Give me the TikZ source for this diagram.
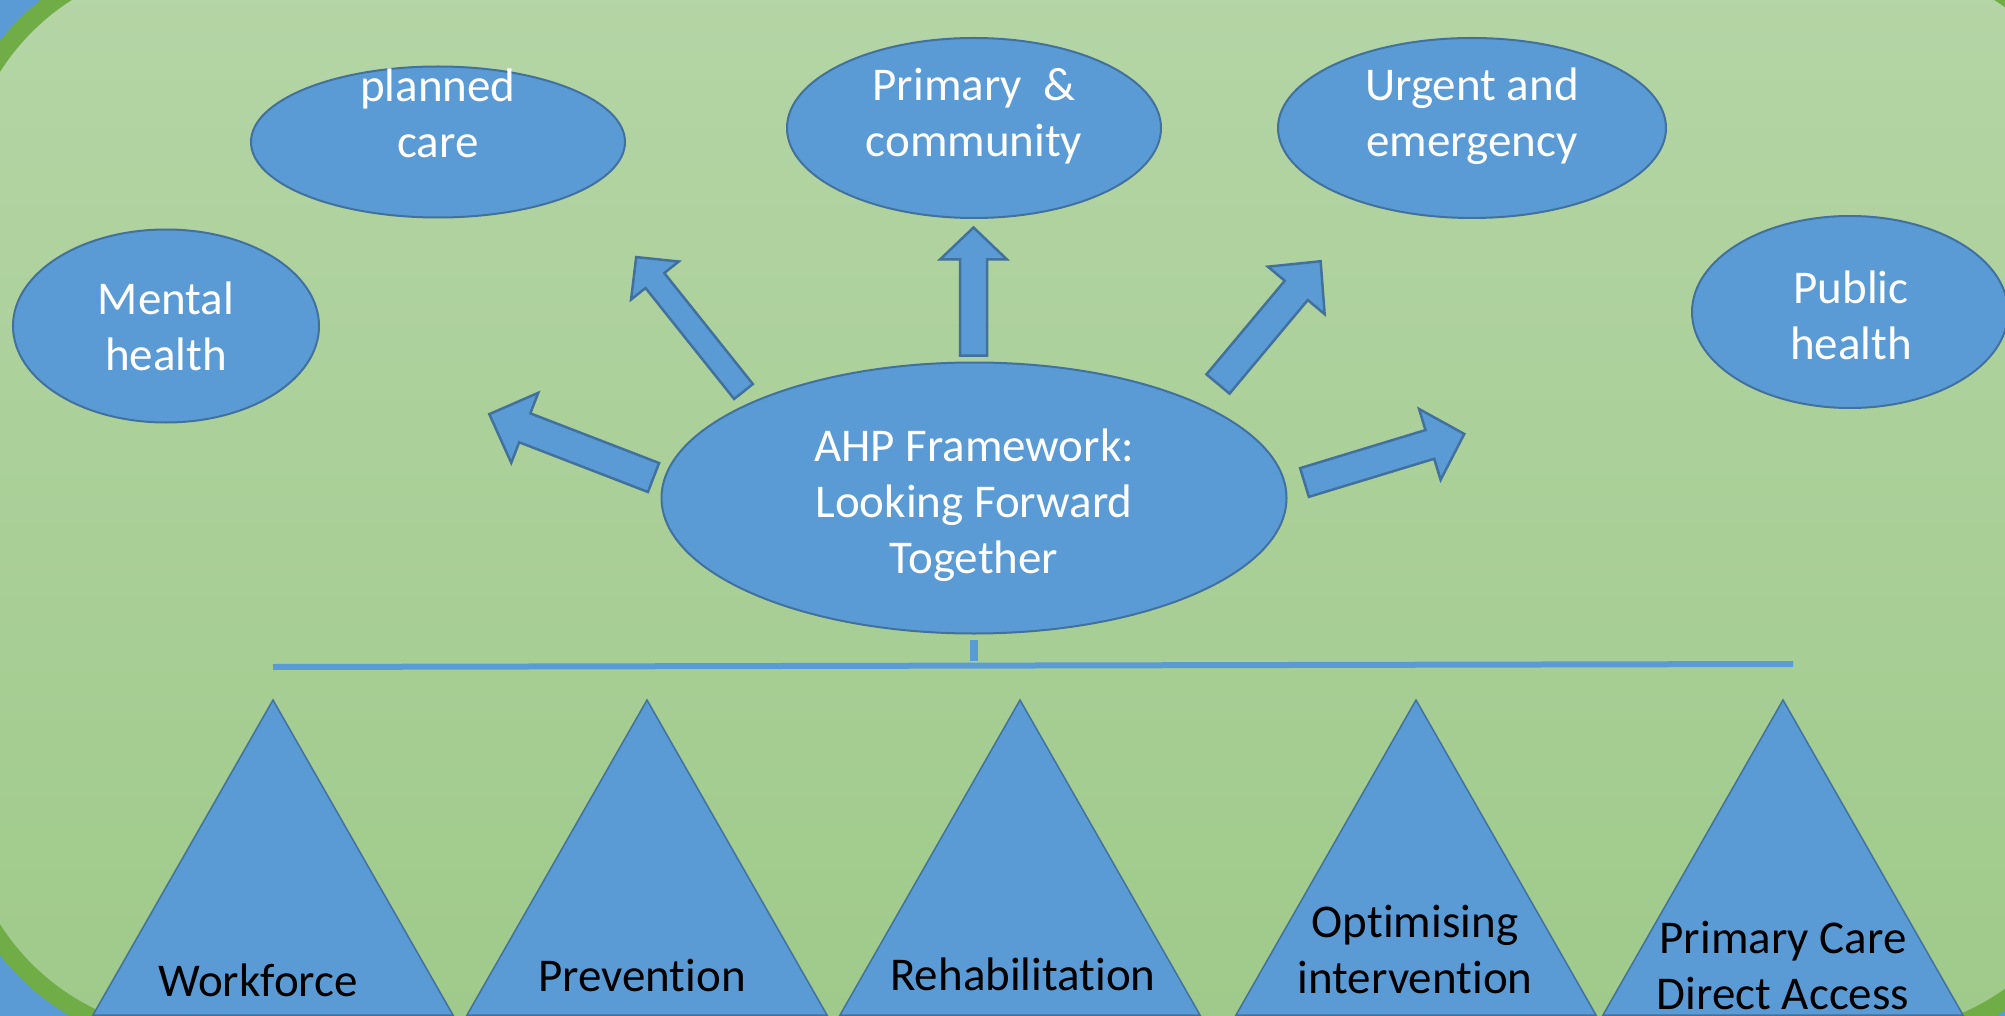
\documentclass[tikz,border=0pt]{standalone}
\usepackage{fontspec}
\setmainfont{Carlito}[Ligatures=NoCommon]
\usetikzlibrary{shapes.geometric}
\definecolor{slideblue}{HTML}{5B9BD5}
\definecolor{edgeblue}{HTML}{41719C}
\definecolor{framegreen}{HTML}{70AD47}
\definecolor{toplight}{HTML}{B5D5A6}
\definecolor{bottomdark}{HTML}{9FCA8A}
\begin{document}
\begin{tikzpicture}[x=1pt, y=-1pt,
    area/.style={ellipse, draw=edgeblue, line width=2pt, fill=slideblue, inner sep=0pt},
    areatext/.style={text=white, align=center, font=\fontsize{47}{56}\selectfont},
    pillar/.style={draw=edgeblue, line width=1.5pt, fill=slideblue, line join=miter},
    pillartext/.style={text=black, align=center, font=\fontsize{47}{56}\selectfont},
    fatarrow/.style={draw=edgeblue, line width=2.5pt, fill=slideblue, line join=miter}]
\useasboundingbox (0,0) rectangle (2005,1016);
\clip (0,0) rectangle (2005,1016);
% slide background and green frame
\fill[slideblue] (0,0) rectangle (2005,1016);
\draw[draw=framegreen, line width=18pt, rounded corners=241pt, top color=toplight, bottom color=bottomdark]
    (-45,-45) rectangle (2111,1041);
% care areas
\node[area, minimum width=374pt, minimum height=151pt] (planned) at (438,142) {};
\node[area, minimum width=374pt, minimum height=180pt] (primary) at (974,128) {};
\node[area, minimum width=388pt, minimum height=180pt] (urgent) at (1472,128) {};
\node[area, minimum width=306pt, minimum height=193pt] (mental) at (166,326) {};
\node[area, minimum width=316pt, minimum height=192pt] (public) at (1850,312) {};
\node[area, minimum width=625pt, minimum height=271pt] (ahp) at (974,498) {};
\node[areatext] (planned-label) at (438,113) {planned\\care};
\node[areatext] (primary-label) at (974,116) {Primary\ \ \&\\community};
\node[areatext] (urgent-label) at (1472,116) {Urgent and\\emergency};
\node[areatext] (mental-label) at (166,326) {Mental\\health};
\node[areatext] (public-label) at (1851,315) {Public\\health};
\node[areatext] (ahp-label) at (974,505) {AHP Framework:\\Looking Forward\\Together};
% block arrows out of the framework
\foreach \bx/\by/\ang/\len/\sw/\hw/\hl in {
    743.5/391.5/128.6/172/24/61/30,
    653.5/477.5/158.9/176/31/75/38,
    973.5/355.5/90/128/27/67/32,
    1218/384/50.1/160/30/74/38,
    1304.5/482.5/16.9/167/30/74/36}
  \draw[fatarrow, shift={(\bx,\by)}, rotate=\ang]
    (0,-\sw/2) -- (\len-\hl,-\sw/2) -- (\len-\hl,-\hw/2) -- (\len,0)
    -- (\len-\hl,\hw/2) -- (\len-\hl,\sw/2) -- (0,\sw/2) -- cycle;
% bar under the framework
\coordinate (bar-left) at (273,667);
\coordinate (bar-right) at (1793,664);
\draw[slideblue, line width=6pt] (bar-left) -- (bar-right);
\draw[slideblue, line width=8pt] ([yshift=-5pt]ahp.south) -- ([yshift=-26pt]ahp.south);
% pillars
\foreach \ax in {273,647,1020,1416,1783}
  \draw[pillar] (\ax,700) -- (\ax+180,1015) -- (\ax-180,1015) -- cycle;
\node[pillartext] (workforce) at (258,980) {Workforce};
\node[pillartext] (prevention) at (642,975) {Prevention};
\node[pillartext] (rehab) at (1023,974) {Rehabilitation};
\node[pillartext] (optimising) at (1415,949) {Optimising\\intervention};
\node[pillartext] (directaccess) at (1783,965) {Primary Care\\Direct Access};
\end{tikzpicture}
\end{document}
